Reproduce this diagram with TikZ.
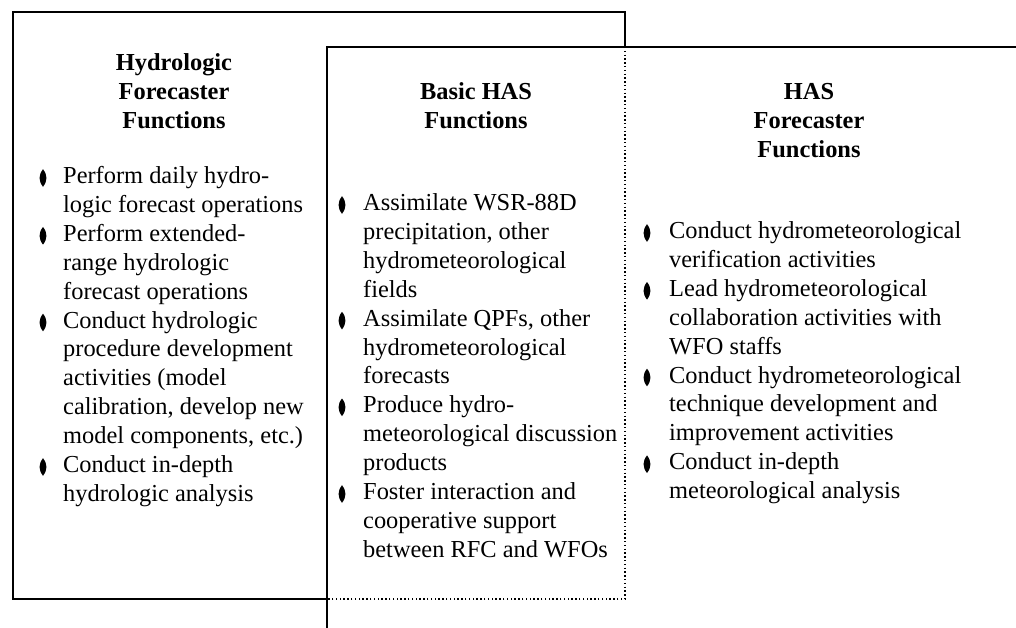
\documentclass[tikz,border=0pt]{standalone}
\usepackage{fontspec}
\setmainfont{Liberation Serif}
\newcommand\bodyfont{\fontsize{24.4pt}{28.9pt}\selectfont}
\tikzset{
  txt/.style={anchor=base west, inner sep=0pt, font=\bodyfont},
  ttl/.style={anchor=base, inner sep=0pt, font=\bodyfont\bfseries},
  solidline/.style={line width=1.8pt, line cap=rect},
  dotline/.style={line width=1.1pt, dash pattern=on 1.4pt off 2.4pt},
  bulletmark/.style={fill=black},
}
\newcommand\bulletat[2]{\fill[bulletmark, shift={(#1,#2)}] (0,-8.8) .. controls (4.6,-3) and (4.6,3) .. (0,8.8) .. controls (-4.6,3) and (-4.6,-3) .. (0,-8.8) -- cycle;}
\begin{document}
\begin{tikzpicture}[x=1pt, y=-1pt]
\useasboundingbox (0,0) rectangle (1016,628);
\clip (0,0) rectangle (1016,628);
% corners
\coordinate (A) at (13,12);
\coordinate (B) at (625,12);
\coordinate (C) at (625,47);
\coordinate (D) at (625,599);
\coordinate (E) at (327,599);
\coordinate (F) at (13,599);
\coordinate (G) at (327,47);
\coordinate (Rtop) at (1030,47);
\coordinate (Rbot) at (327,640);
% left box
\draw[solidline] (E) -- (F) -- (A) -- (B) -- (C);
\draw[dotline] (C) -- (D) -- (E);
% right box
\draw[solidline] (Rtop) -- (G) -- (Rbot);
% titles
\node[ttl] (t1a) at (174,71) {Hydrologic};
\node[ttl] (t1b) at (174,100) {Forecaster};
\node[ttl] (t1c) at (174,129) {Functions};
\node[ttl] (t2a) at (476,100) {Basic HAS};
\node[ttl] (t2b) at (476,129) {Functions};
\node[ttl] (t3a) at (809,100) {HAS};
\node[ttl] (t3b) at (809,129) {Forecaster};
\node[ttl] (t3c) at (809,158) {Functions};
% left column
\foreach \t [count=\i from 0] in {{Perform daily hydro-}, {logic forecast operations}, {Perform extended-}, {range hydrologic}, {forecast operations}, {Conduct hydrologic}, {procedure development}, {activities (model}, {calibration, develop new}, {model components, etc.)}, {Conduct in-depth}, {hydrologic analysis}}
  {\node[txt] (L\i) at (63,183.5+28.9*\i) {\t};}
\foreach \i in {0,2,5,10} {\bulletat{43}{178+28.9*\i}}
% middle column
\foreach \t [count=\i from 0] in {{Assimilate WSR-88D}, {precipitation, other}, {hydrometeorological}, {fields}, {Assimilate QPFs, other}, {hydrometeorological}, {forecasts}, {Produce hydro-}, {meteorological discussion}, {products}, {Foster interaction and}, {cooperative support}, {between RFC and WFOs}}
  {\node[txt] (M\i) at (363,210.5+28.9*\i) {\t};}
\foreach \i in {0,4,7,10} {\bulletat{342}{205+28.9*\i}}
% right column
\foreach \t [count=\i from 0] in {{Conduct hydrometeorological}, {verification activities}, {Lead hydrometeorological}, {collaboration activities with}, {WFO staffs}, {Conduct hydrometeorological}, {technique development and}, {improvement activities}, {Conduct in-depth}, {meteorological analysis}}
  {\node[txt] (R\i) at (669,238.5+28.9*\i) {\t};}
\foreach \i in {0,2,5,8} {\bulletat{647}{233+28.9*\i}}
\end{tikzpicture}
\end{document}
